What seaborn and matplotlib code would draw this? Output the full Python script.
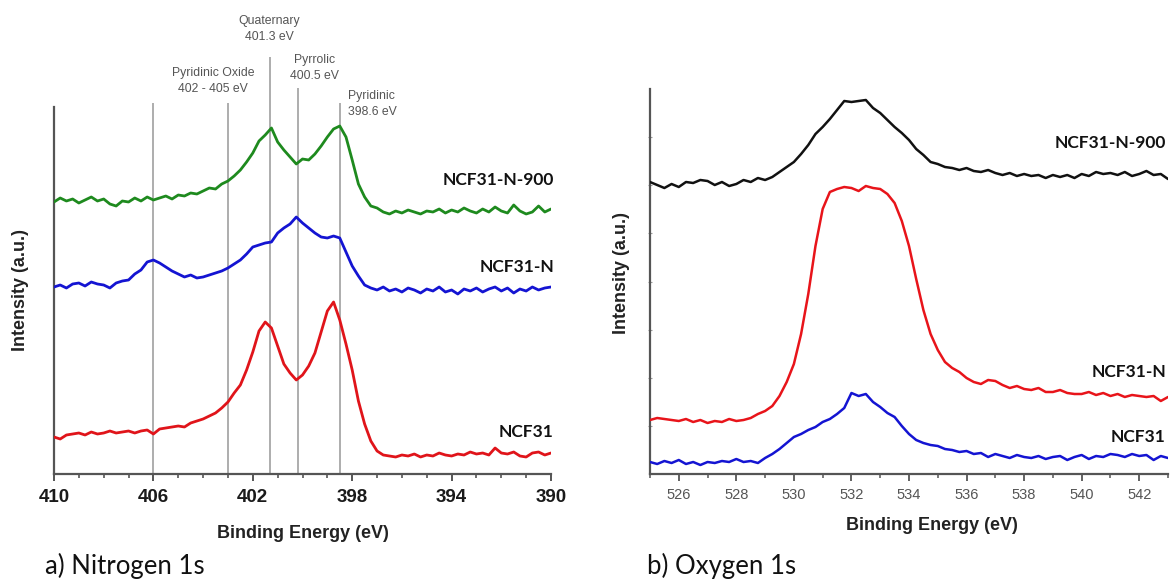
import numpy as np
import pandas as pd
import matplotlib
matplotlib.use("Agg")
import matplotlib.pyplot as plt
from matplotlib.ticker import MultipleLocator
import seaborn as sns

# ---------------- data: Nitrogen 1s ----------------
n_energy = [410 - 0.25 * i for i in range(81)]
n_ncf31_n_900 = [272, 276, 273, 275, 271, 274, 277, 273, 275, 270,
                 268, 273, 272, 276, 273, 277, 274, 276, 278, 275,
                 279, 278, 281, 280, 283, 286, 285, 290, 293, 298,
                 304, 312, 321, 333, 339, 346, 332, 324, 317, 310,
                 315, 314, 320, 328, 337, 345, 348, 337, 314, 290,
                 277, 268, 266, 262, 260, 263, 261, 264, 262, 260,
                 263, 262, 265, 261, 264, 262, 266, 263, 261, 265,
                 262, 267, 263, 261, 269, 263, 260, 262, 268, 262, 265]
n_ncf31_n = [187, 189, 186, 190, 191, 188, 192, 190, 189, 186,
             191, 193, 194, 200, 204, 212, 214, 211, 207, 203,
             200, 197, 199, 196, 197, 199, 201, 203, 206, 210,
             214, 220, 227, 229, 231, 232, 241, 246, 250, 257,
             251, 246, 241, 237, 236, 238, 236, 222, 208, 198,
             189, 186, 184, 187, 183, 185, 182, 186, 184, 181,
             185, 183, 187, 182, 184, 180, 185, 183, 186, 182,
             185, 187, 183, 186, 181, 185, 183, 187, 184, 186, 187]
n_ncf31 = [37, 35, 39, 40, 41, 39, 42, 40, 41, 43,
           41, 42, 43, 41, 43, 44, 40, 45, 46, 47,
           48, 47, 51, 53, 55, 58, 61, 66, 72, 81,
           89, 104, 122, 143, 152, 146, 128, 110, 101, 94,
           99, 108, 121, 142, 163, 172, 154, 130, 104, 73,
           50, 33, 23, 19, 18, 17, 19, 18, 20, 17,
           19, 18, 21, 19, 18, 20, 19, 22, 20, 21,
           19, 26, 21, 20, 22, 18, 17, 21, 22, 19, 21]
n_series = ["NCF31-N-900", "NCF31-N", "NCF31"]
n_ticks = [410, 406, 402, 398, 394, 390]
peak_pos = [406.0, 403.0, 401.3, 400.2, 398.5]
peak_labels = ["Pyridinic Oxide\n402 - 405 eV", "Quaternary\n401.3 eV",
               "Pyrrolic\n400.5 eV", "Pyridinic\n398.6 eV"]

# ---------------- data: Oxygen 1s ----------------
o_energy = [525 + 0.25 * i for i in range(73)]
o_ncf31_n_900 = [292, 289, 286, 290, 287, 292, 291, 294, 293, 289,
                 292, 288, 290, 294, 292, 296, 294, 297, 302, 307,
                 312, 320, 329, 340, 347, 355, 364, 373, 372, 373,
                 374, 366, 361, 354, 347, 341, 334, 325, 319, 312,
                 310, 307, 306, 304, 306, 303, 302, 304, 301, 299,
                 301, 298, 300, 298, 299, 296, 299, 297, 299, 296,
                 300, 298, 302, 300, 301, 299, 302, 298, 300, 303,
                 299, 300, 295]
o_ncf31_n = [54, 56, 55, 54, 53, 55, 52, 54, 51, 53,
             52, 55, 53, 54, 56, 60, 63, 68, 78, 92,
             110, 140, 180, 228, 265, 282, 285, 287, 286, 283,
             288, 286, 285, 280, 271, 253, 228, 195, 164, 140,
             124, 112, 106, 102, 96, 92, 90, 94, 93, 89,
             86, 88, 85, 84, 86, 82, 82, 84, 81, 80,
             80, 82, 79, 81, 78, 80, 77, 79, 78, 77,
             78, 73, 77]
o_ncf31 = [12, 10, 13, 11, 14, 10, 12, 9, 12, 11,
           13, 12, 15, 12, 13, 11, 16, 20, 25, 31,
           37, 40, 44, 47, 52, 55, 60, 66, 81, 78,
           80, 72, 67, 61, 57, 48, 40, 34, 31, 29,
           28, 25, 24, 22, 23, 20, 21, 17, 20, 18,
           16, 19, 17, 16, 18, 15, 17, 18, 14, 17,
           19, 15, 18, 17, 20, 19, 17, 20, 18, 19,
           14, 18, 16]
o_series = ["NCF31-N-900", "NCF31-N", "NCF31"]
o_ticks = [526, 528, 530, 532, 534, 536, 538, 540, 542]

# ---------------- tables ----------------
n_df = pd.DataFrame({
    "energy": n_energy * 3,
    "intensity": n_ncf31_n_900 + n_ncf31_n + n_ncf31,
    "sample": [s for s in n_series for _ in n_energy],
})
o_df = pd.DataFrame({
    "energy": o_energy * 3,
    "intensity": o_ncf31_n_900 + o_ncf31_n + o_ncf31,
    "sample": [s for s in o_series for _ in o_energy],
})

sns.set_theme(style="white")
plt.rcParams["font.family"] = ["Liberation Sans", "DejaVu Sans"]

W, H = 1172, 583
fig = plt.figure(figsize=(W / 100, H / 100), dpi=100)
fig.patch.set_facecolor("white")

def px_axes(l, r, top, bottom):
    return fig.add_axes([l / W, (H - bottom) / H, (r - l) / W, (bottom - top) / H])

spine_col = "#555555"
n_pal = {"NCF31-N-900": "#1e8a1e", "NCF31-N": "#1414d2", "NCF31": "#e0141a"}
o_pal = {"NCF31-N-900": "#111111", "NCF31-N": "#e8141a", "NCF31": "#1414d2"}

# ---------------- left panel ----------------
ax1 = px_axes(54, 551, 10, 474)
ax1.set_facecolor("white")
sns.lineplot(data=n_df, x="energy", y="intensity", hue="sample", palette=n_pal,
             estimator=None, linewidth=2.0, legend=False, ax=ax1, zorder=3)
ax1.set_xlim(410, 390)
ax1.set_ylim(0, 464)
line_tops = [371, 371, 417, 386, 371]
ax1.vlines(peak_pos, 0, line_tops, colors="#a0a0a0", linewidth=1.2, zorder=2)
ann_xy = [(403.6, 393, "center"), (401.35, 445, "center"),
          (399.5, 406, "center"), (398.15, 370, "left")]
for (x, y, ha), lab in zip(ann_xy, peak_labels):
    ax1.text(x, y, lab, ha=ha, va="center", fontsize=8.8, color="#555555",
             linespacing=1.35)
for sp in ["top", "right"]:
    ax1.spines[sp].set_visible(False)
for sp in ["left", "bottom"]:
    ax1.spines[sp].set_color(spine_col)
    ax1.spines[sp].set_linewidth(1.6)
ax1.spines["left"].set_bounds(0, 367)
ax1.set_xticks(n_ticks)
ax1.set_xticklabels([str(t) for t in n_ticks])
ax1.xaxis.set_minor_locator(MultipleLocator(1))
ax1.tick_params(axis="x", which="major", direction="out", length=5, width=1.4,
                color=spine_col, labelsize=13.5, pad=6, bottom=True)
ax1.tick_params(axis="x", which="minor", direction="out", length=3, width=1.2,
                color=spine_col, bottom=True)
for t in ax1.get_xticklabels():
    t.set_fontweight("bold")
    t.set_color("#1a1a1a")
ax1.set_yticks([])
ax1.set_xlabel("Binding Energy (eV)", fontsize=13, fontweight="bold", color="#222222")
ax1.xaxis.set_label_coords(0.5, (474 - 533) / 464)
ax1.xaxis.label.set_va("center")
ax1.set_ylabel("Intensity (a.u.)", fontsize=13, fontweight="bold", color="#222222")
ax1.yaxis.set_label_coords((21 - 54) / 497, (474 - 290) / 464)
ax1.yaxis.label.set_va("center")
for lab, y in zip(n_series, [294, 207, 42]):
    ax1.text(389.88, y, lab, ha="right", va="center", fontsize=12.5,
             fontweight="bold", color="#111111", family=["Lato", "DejaVu Sans"])
fig.text(45 / W, (H - 574) / H, "a) Nitrogen 1s", fontsize=18.5, color="#111111",
         ha="left", va="baseline", family=["Lato", "DejaVu Sans"])

# ---------------- right panel ----------------
ax2 = px_axes(650, 1168, 89, 474)
ax2.set_facecolor("white")
sns.lineplot(data=o_df, x="energy", y="intensity", hue="sample", palette=o_pal,
             estimator=None, linewidth=1.8, legend=False, ax=ax2, zorder=3)
ax2.set_xlim(525, 543)
ax2.set_ylim(0, 385)
for sp in ["top", "right"]:
    ax2.spines[sp].set_visible(False)
for sp in ["left", "bottom"]:
    ax2.spines[sp].set_color(spine_col)
    ax2.spines[sp].set_linewidth(1.6)
ax2.set_xticks(o_ticks)
ax2.set_xticklabels([str(t) for t in o_ticks])
ax2.xaxis.set_minor_locator(MultipleLocator(1))
ax2.tick_params(axis="x", which="major", direction="out", length=5, width=1.3,
                color=spine_col, labelsize=10.5, labelcolor="#555555", pad=5, bottom=True)
ax2.tick_params(axis="x", which="minor", direction="out", length=3, width=1.1,
                color=spine_col, bottom=True)
ax2.set_yticks([385 * k / 8 for k in range(1, 8)])
ax2.set_yticklabels([])
ax2.tick_params(axis="y", direction="inout", length=3, width=0.8, color="#9a9a9a", left=True)
ax2.set_xlabel("Binding Energy (eV)", fontsize=13, fontweight="bold", color="#222222")
ax2.xaxis.set_label_coords((932 - 650) / 518, (474 - 525) / 385)
ax2.xaxis.label.set_va("center")
ax2.set_ylabel("Intensity (a.u.)", fontsize=13, fontweight="bold", color="#222222")
ax2.yaxis.set_label_coords((622 - 650) / 518, (474 - 273) / 385)
ax2.yaxis.label.set_va("center")
for lab, y in zip(o_series, [331, 102, 37]):
    ax2.text(542.93, y, lab, ha="right", va="center", fontsize=12.5,
             fontweight="bold", color="#111111", family=["Lato", "DejaVu Sans"])
fig.text(647 / W, (H - 574) / H, "b) Oxygen 1s", fontsize=18.5, color="#111111",
         ha="left", va="baseline", family=["Lato", "DejaVu Sans"])

fig.savefig("out.png", dpi=100, facecolor="white")
